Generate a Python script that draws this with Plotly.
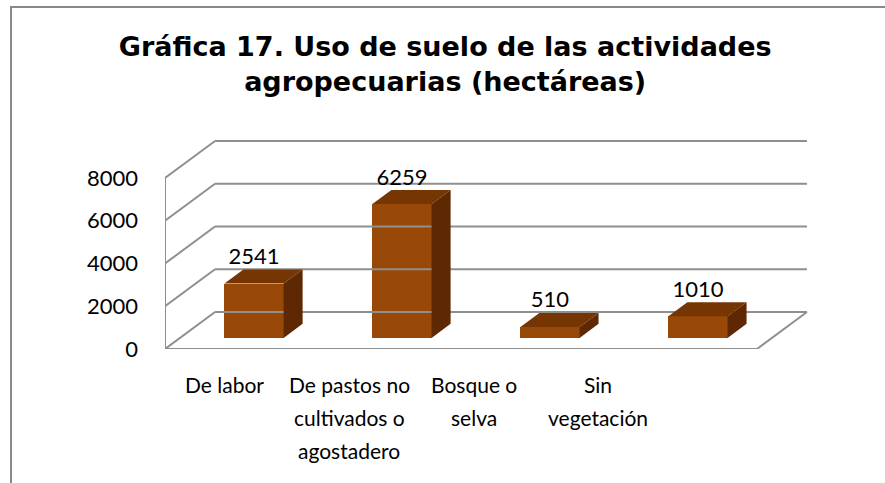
import plotly.graph_objects as go

# ---- data ----
categories = ["De labor", "De pastos no<br>cultivados o<br>agostadero", "Bosque o<br>selva", "Sin<br>vegetación"]
values = [2541, 6259, 510, 1010]
y_ticks = [0, 2000, 4000, 6000, 8000]
y_ticklabels = ["0", "2000", "4000", "6000", "8000"]
title_text = "Gráfica 17. Uso de suelo de las actividades<br>agropecuarias (hectáreas)"

# ---- style / 3D projection parameters ----
DX = 0.338      # depth offset in category units
DY = 1731       # depth offset in value units
D0, D1 = 0.30, 0.68   # depth fraction of bar front/back
BAR_W = 0.40
FRONT = "#984807"
TOP = "#763603"
SIDE = "#5E2902"
GRID = "#8f8f8f"
LABEL_START, LABEL_STEP = 0.405, 0.84
LINE_GAP = 33
FONT = "Lato"

n = len(values)
fig = go.Figure()

# walls / gridlines
gx, gy = [], []
for v in y_ticks:
    gx += [DX, n + DX, None, 0, DX, None]
    gy += [v + DY, v + DY, None, v, v + DY, None]
gx += [0, 0, None, 0, n, n + DX, None]
gy += [0, y_ticks[-1], None, 0, 0, DY, None]
fig.add_trace(go.Scatter(x=gx, y=gy, mode="lines", line=dict(color=GRID, width=2),
                         hoverinfo="skip", showlegend=False))

base = D0 * DY
dd = D1 - D0
centers = [i + 0.5 + D0 * DX for i in range(n)]

# front faces
fig.add_trace(go.Bar(x=centers, y=values, base=[base] * n, width=BAR_W,
                     marker=dict(color=FRONT, line=dict(width=0)), showlegend=False))

# top and side faces
for xc, v in zip(centers, values):
    xl, xr = xc - BAR_W / 2, xc + BAR_W / 2
    top = base + v
    fig.add_trace(go.Scatter(
        x=[xl, xr, xr + dd * DX, xl + dd * DX, xl],
        y=[top, top, top + dd * DY, top + dd * DY, top],
        fill="toself", fillcolor=TOP, mode="lines", line=dict(width=0, color=TOP),
        hoverinfo="skip", showlegend=False))
    fig.add_trace(go.Scatter(
        x=[xr, xr + dd * DX, xr + dd * DX, xr, xr],
        y=[base, base + dd * DY, top + dd * DY, top, base],
        fill="toself", fillcolor=SIDE, mode="lines", line=dict(width=0, color=SIDE),
        hoverinfo="skip", showlegend=False))

# data labels
fig.add_trace(go.Scatter(
    x=centers, y=[base + v + dd * DY for v in values], mode="text",
    text=[str(v) for v in values], textposition="top center",
    textfont=dict(family=FONT, size=22, color="black"),
    hoverinfo="skip", showlegend=False, cliponaxis=False))

# category labels (one annotation per line for Excel-like line spacing)
label_pos = [LABEL_START + i * LABEL_STEP for i in range(n)]
annotations = []
for xp, cat in zip(label_pos, categories):
    for k, line in enumerate(cat.split("<br>")):
        annotations.append(dict(x=xp, y=0, xref="x", yref="y", text=line, showarrow=False,
                                xanchor="center", yanchor="middle", yshift=-(35 + k * LINE_GAP),
                                font=dict(family=FONT, size=21, color="black")))

fig.update_layout(
    width=885, height=483,
    margin=dict(l=165, r=28, t=130, b=134),
    paper_bgcolor="white", plot_bgcolor="white",
    title=dict(text=title_text, x=0.503, xref="container", xanchor="center",
               y=0.885, yref="container", yanchor="top",
               font=dict(family="DejaVu Sans", size=27, color="black", weight="bold")),
    xaxis=dict(range=[0, 4.676], showgrid=False, zeroline=False, showline=False,
               showticklabels=False, ticks=""),
    yaxis=dict(range=[0, 10245], showgrid=False, zeroline=False, showline=False,
               tickmode="array", tickvals=y_ticks, ticktext=y_ticklabels, ticks="",
               ticklabelstandoff=26, tickfont=dict(family=FONT, size=22, color="black")),
    bargap=0,
    annotations=annotations,
    shapes=[dict(type="rect", xref="paper", yref="paper", x0=-0.2225, x1=1.3, y0=-1.0, y1=1.5616,
                 line=dict(color="#888888", width=2), layer="below")],
)

fig.write_html("out.html", config={"displayModeBar": False},
               post_script="document.body.style.margin='0';")
